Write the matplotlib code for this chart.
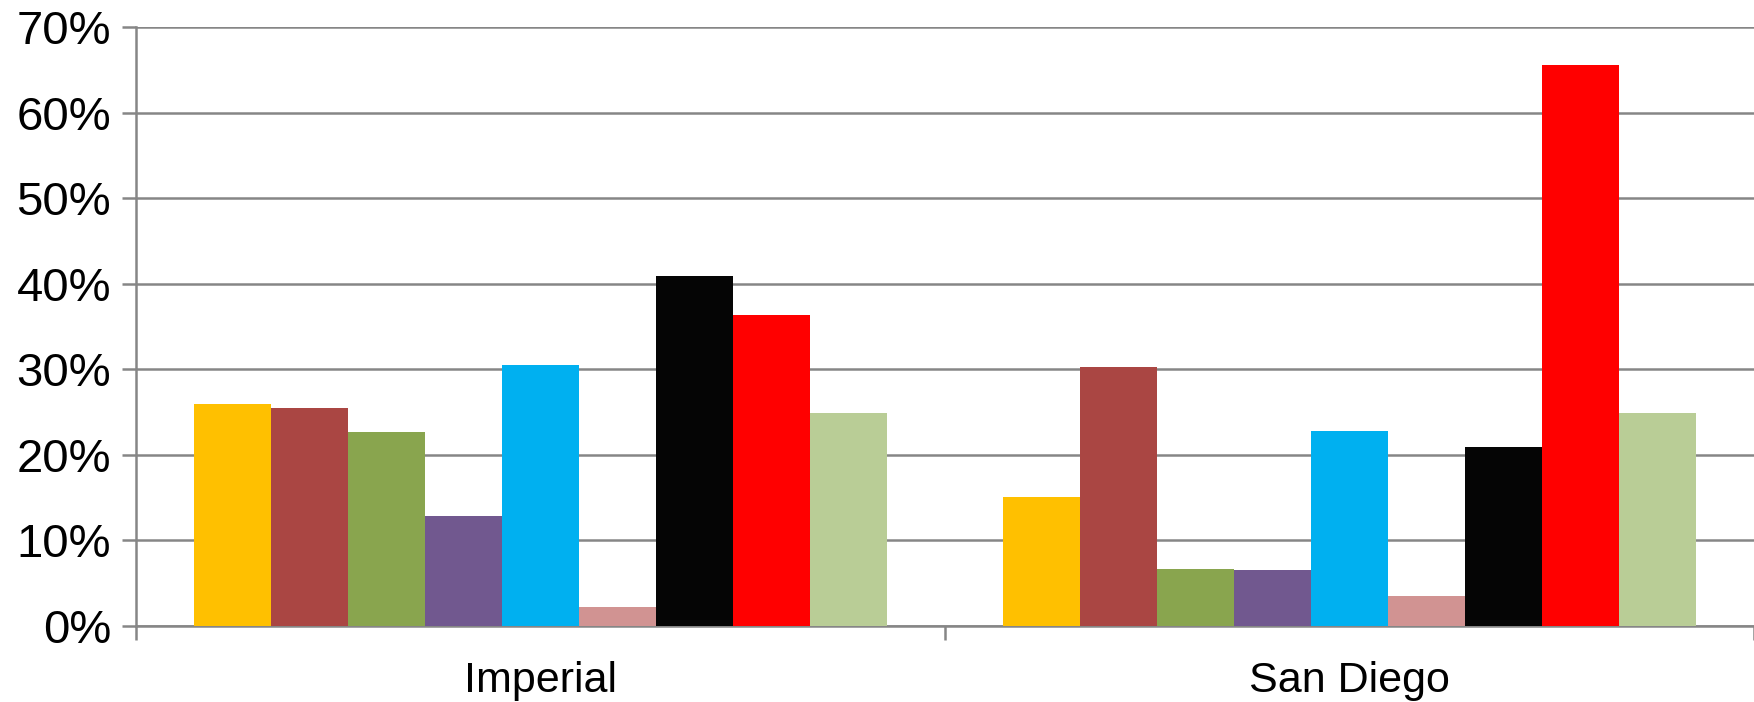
import numpy as np
import matplotlib.pyplot as plt
from matplotlib.ticker import PercentFormatter, FixedLocator

plt.rcParams['font.family'] = ['Liberation Sans', 'DejaVu Sans']

# data
regions = ['Imperial', 'San Diego']
colors = ['#FFC000', '#AA4643', '#89A54E', '#71588F', '#00B0F0',
          '#D19392', '#050505', '#FF0000', '#B9CD96']
values = np.array([
    [26.0, 15.1],
    [25.5, 30.3],
    [22.7, 6.7],
    [12.8, 6.6],
    [30.5, 22.8],
    [2.2, 3.5],
    [40.9, 20.9],
    [36.3, 65.6],
    [24.9, 24.9],
])

fig = plt.figure(figsize=(17.54, 7.02), dpi=100)
ax = fig.add_axes([0.0775, 0.1083, 0.9225, 0.8532])

n = len(colors)
gap = 1.51
w = 1.0 / (n + gap)
centers = np.arange(len(regions)) + 0.5
for i in range(n):
    x = centers - 0.5 + (gap / 2) * w + (i + 0.5) * w
    ax.bar(x, values[i], width=w, color=colors[i], edgecolor='none', zorder=3)

ax.set_xlim(0, len(regions))
ax.set_ylim(0, 70)
ax.set_yticks(np.arange(0, 71, 10))
ax.yaxis.set_major_formatter(PercentFormatter(decimals=0))
ax.grid(axis='y', color='#868686', linewidth=1.8, zorder=1)

ax.set_xticks(centers)
ax.set_xticklabels(regions)
ax.xaxis.set_minor_locator(FixedLocator(np.arange(0, len(regions) + 1)))
ax.tick_params(axis='x', which='major', length=0, pad=25, labelsize=31)
ax.tick_params(axis='x', which='minor', length=10, width=1.8, color='#868686')
ax.tick_params(axis='y', length=10, width=1.8, color='#868686', pad=8, labelsize=34)

for side in ['top', 'right']:
    ax.spines[side].set_visible(False)
ax.spines['left'].set_color('#868686')
ax.spines['left'].set_linewidth(1.8)
ax.spines['bottom'].set_color('#868686')
ax.spines['bottom'].set_linewidth(1.8)

fig.savefig('out.png', dpi=100)
